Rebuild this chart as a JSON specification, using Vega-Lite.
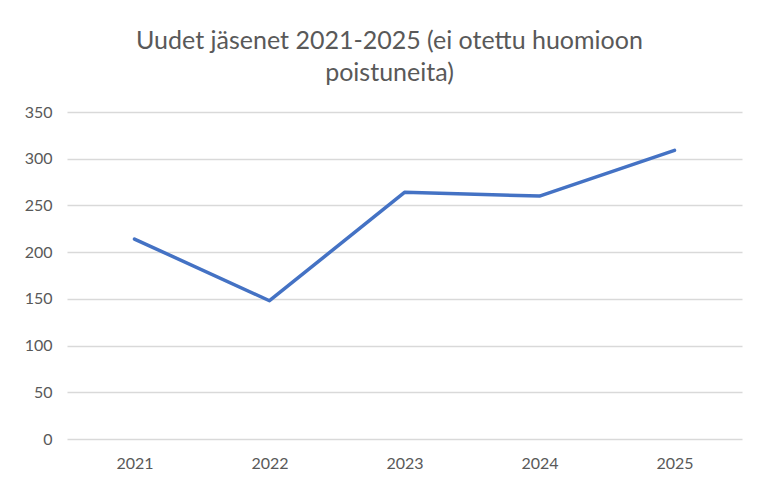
{
  "$schema": "https://vega.github.io/schema/vega-lite/v6.json",
  "width": 675,
  "height": 327,
  "autosize": "none",
  "padding": {"left": 67, "top": 112, "right": 29, "bottom": 42},
  "background": "white",
  "title": {
    "text": ["Uudet jäsenet 2021-2025 (ei otettu huomioon", "poistuneita)"],
    "font": "Lato",
    "fontSize": 25,
    "fontWeight": "normal",
    "color": "#595959",
    "anchor": "middle",
    "dx": -15,
    "offset": 18,
    "lineHeight": 32
  },
  "data": {
    "values": [
      {"year": "2021", "members": 214},
      {"year": "2022", "members": 148},
      {"year": "2023", "members": 264},
      {"year": "2024", "members": 260},
      {"year": "2025", "members": 309}
    ]
  },
  "mark": {"type": "line", "color": "#4472C4", "strokeWidth": 3.5, "strokeCap": "round", "strokeJoin": "round"},
  "encoding": {
    "x": {
      "field": "year",
      "type": "ordinal",
      "scale": {"type": "point", "padding": 0.5},
      "axis": {
        "title": null,
        "labelAngle": 0,
        "ticks": false,
        "domain": false,
        "grid": false,
        "labelPadding": 16,
        "labelFont": "Lato",
        "labelFontSize": 16,
        "labelColor": "#595959"
      }
    },
    "y": {
      "field": "members",
      "type": "quantitative",
      "scale": {"domain": [0, 350], "nice": false},
      "axis": {
        "title": null,
        "values": [0, 50, 100, 150, 200, 250, 300, 350],
        "ticks": false,
        "domain": false,
        "grid": true,
        "gridColor": "#d9d9d9",
        "gridWidth": 1.3,
        "labelPadding": 15,
        "labelFont": "Lato",
        "labelFontSize": 16,
        "labelColor": "#595959"
      }
    }
  },
  "config": {"view": {"stroke": null}}
}
